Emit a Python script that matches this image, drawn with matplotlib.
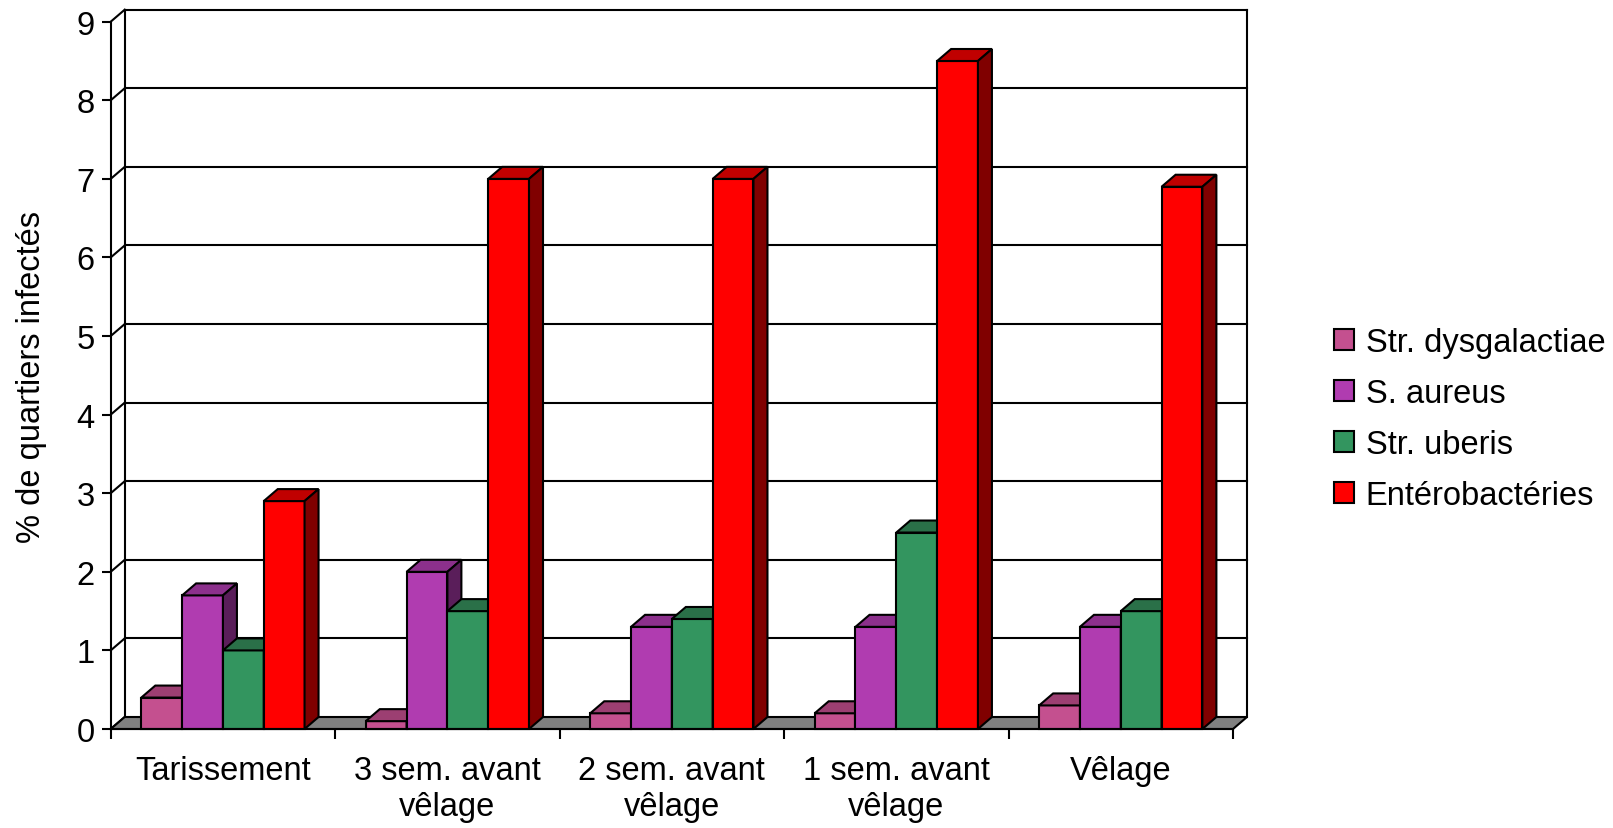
import matplotlib.pyplot as plt
from matplotlib.patches import Polygon, Patch
import numpy as np

plt.rcParams['font.family'] = ['Liberation Sans', 'DejaVu Sans']

categories = ['Tarissement', '3 sem. avant\nvêlage', '2 sem. avant\nvêlage',
              '1 sem. avant\nvêlage', 'Vêlage']
series = ['Str. dysgalactiae', 'S. aureus', 'Str. uberis', 'Entérobactéries']
dysgalactiae = [0.4, 0.1, 0.2, 0.2, 0.3]
aureus = [1.7, 2.0, 1.3, 1.3, 1.3]
uberis = [1.0, 1.5, 1.4, 2.5, 1.5]
entero = [2.9, 7.0, 7.0, 8.5, 6.9]
values = [dysgalactiae, aureus, uberis, entero]

# front / top / side colours
front = ['#C4508F', '#B03CB0', '#33955F', '#FF0000']
top = ['#9C3F72', '#8C308C', '#2A7048', '#C00000']
side = ['#62284A', '#5A1E5A', '#1A4D33', '#800000']

W, H = 1613, 829
fig = plt.figure(figsize=(W/100, H/100), dpi=100)
x0, x1, y0, y1 = 110.7, 1233.0, 730.0, 22.7
ax = fig.add_axes([x0/W, 1-y0/H, (x1-x0)/W, (y0-y1)/H])
ax.set_xlim(0, 5)
ax.set_ylim(0, 9)

# depth offset in data units
dx = 14.0 / ((x1-x0)/5)
dy = 12.0 / ((y0-y1)/9)
lw = 1.5

# walls and gridlines
for v in range(10):
    ax.plot([0, dx], [v, v+dy], color='black', lw=lw, clip_on=False, zorder=1)
    if v > 0:
        ax.plot([dx, 5+dx], [v+dy, v+dy], color='black', lw=lw, clip_on=False, zorder=1)
ax.plot([dx, dx], [dy, 9+dy], color='black', lw=lw, clip_on=False, zorder=1)
ax.plot([5+dx, 5+dx], [dy, 9+dy], color='black', lw=lw, clip_on=False, zorder=1)

# floor
floor = Polygon([(0, 0), (5, 0), (5+dx, dy), (dx, dy)], closed=True,
                facecolor='#808080', edgecolor='black', lw=lw, clip_on=False, zorder=2)
ax.add_patch(floor)

# bars
w = 1/(4+1.5)
for i in range(len(categories)):
    for j in range(len(series)):
        v = values[j][i]
        bx = i + 0.75*w + j*w
        fr = Polygon([(bx, 0), (bx+w, 0), (bx+w, v), (bx, v)], closed=True,
                     facecolor=front[j], edgecolor='black', lw=lw, clip_on=False, zorder=3)
        tp = Polygon([(bx, v), (bx+w, v), (bx+w+dx, v+dy), (bx+dx, v+dy)], closed=True,
                     facecolor=top[j], edgecolor='black', lw=lw, clip_on=False, zorder=3)
        sd = Polygon([(bx+w, 0), (bx+w+dx, dy), (bx+w+dx, v+dy), (bx+w, v)], closed=True,
                     facecolor=side[j], edgecolor='black', lw=lw, clip_on=False, zorder=3)
        ax.add_patch(fr)
        ax.add_patch(tp)
        ax.add_patch(sd)

# axes
for s in ['top', 'right']:
    ax.spines[s].set_visible(False)
for s in ['left', 'bottom']:
    ax.spines[s].set_linewidth(lw)
    ax.spines[s].set_zorder(4)
ax.set_yticks(range(10))
ax.tick_params(axis='y', length=6.5, width=lw, labelsize=23.5, pad=5)
ax.set_xticks(range(6))
ax.set_xticklabels([])
ax.tick_params(axis='x', which='major', length=7, width=lw)
ax.set_xticks(np.arange(5)+0.5, minor=True)
ax.set_xticklabels(categories, minor=True, fontsize=23.5, linespacing=1.2)
ax.tick_params(axis='x', which='minor', length=0, pad=19)

fig.text(32/W, 1-377/H, '% de quartiers infectés', rotation=90,
         ha='center', va='center', fontsize=23.5)

handles = [Patch(facecolor=front[j], edgecolor='black', lw=lw) for j in range(4)]
fig.legend(handles, series, loc='center left', bbox_to_anchor=(1334/W, 1-420/H),
           frameon=False, fontsize=23.5, handlelength=0.62, handleheight=0.62,
           handletextpad=0.35, labelspacing=0.62, borderpad=0, borderaxespad=0)

plt.savefig('out.png', dpi=100)
